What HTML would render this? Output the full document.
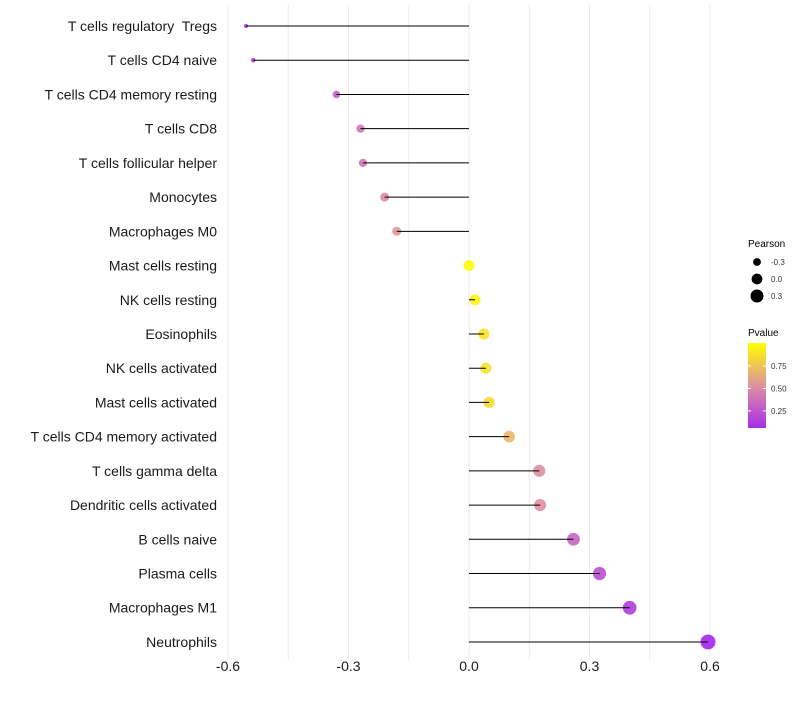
<!DOCTYPE html>
<html><head><meta charset="utf-8"><style>
body{margin:0;background:#fff;font-family:"Liberation Sans",sans-serif;}
text{white-space:pre;}
</style></head><body>
<svg id="chart" width="800" height="700" font-family="Liberation Sans, sans-serif"></svg>
<script>
const categories=["T cells regulatory  Tregs","T cells CD4 naive","T cells CD4 memory resting","T cells CD8","T cells follicular helper","Monocytes","Macrophages M0","Mast cells resting","NK cells resting","Eosinophils","NK cells activated","Mast cells activated","T cells CD4 memory activated","T cells gamma delta","Dendritic cells activated","B cells naive","Plasma cells","Macrophages M1","Neutrophils"];
const pearson=[-0.555,-0.537,-0.33,-0.27,-0.264,-0.21,-0.18,0.0,0.015,0.037,0.042,0.05,0.1,0.175,0.177,0.26,0.325,0.4,0.595];
const pvalue=[0.06,0.07,0.3,0.4,0.4,0.5,0.56,0.99,0.95,0.88,0.87,0.85,0.7,0.52,0.52,0.32,0.22,0.13,0.03];
const xTicks=[-0.6,-0.3,0.0,0.3,0.6];
const xTickLabels=["-0.6","-0.3","0.0","0.3","0.6"];
const legendSizes=[-0.3,0.0,0.3];
const legendPTicks=[0.25,0.5,0.75];

const NS="http://www.w3.org/2000/svg";
const svg=document.getElementById('chart');
const x=v=>469+v*401.7;
const y=i=>26+i*34.22;
const r=v=>Math.sqrt(Math.max(1,29+45*v));
function hex(c){return [parseInt(c.slice(1,3),16),parseInt(c.slice(3,5),16),parseInt(c.slice(5,7),16)];}
const stops=[[0,"#a020f0"],[0.5,"#dc8aa8"],[1,"#ffff00"]];
function col(p){p=Math.max(0,Math.min(1,p));for(let k=0;k<stops.length-1;k++){const[a,ca]=stops[k],[b,cb]=stops[k+1];if(p<=b){const t=(p-a)/(b-a);const A=hex(ca),B=hex(cb);return "rgb("+A.map((v,j)=>Math.round(v+(B[j]-v)*t)).join(",")+")";}}return stops[2][1];}
function mk(tag,attrs,parent){const e=document.createElementNS(NS,tag);for(const k in attrs)e.setAttribute(k,attrs[k]);(parent||svg).appendChild(e);return e;}
[-0.6,-0.45,-0.3,-0.15,0,0.15,0.3,0.45,0.6].forEach(v=>{const g=mk('line',{x1:x(v),x2:x(v),y1:5,y2:660,stroke:'#ebebeb','stroke-width':1});

});
categories.forEach((c,i)=>{
 const t=mk('text',{x:217,y:y(i)+5,'text-anchor':'end','font-size':14,fill:'#1a1a1a'});t.textContent=c;
 
 
 const dot=mk('circle',{cx:x(pearson[i]),cy:y(i),r:r(pearson[i]),fill:col(pvalue[i]),'fill-opacity':0.9});
 
 
 const s=mk('line',{x1:x(0),x2:x(pearson[i]),y1:y(i),y2:y(i),stroke:'#000','stroke-width':1});
 
 
});
xTicks.forEach((v,i)=>{const t=mk('text',{x:x(v),y:671,'text-anchor':'middle','font-size':14,fill:'#1a1a1a'});t.textContent=xTickLabels[i];
 
 });
const lt=mk('text',{x:748,y:247,'font-size':10,fill:'#000'});lt.textContent='Pearson';


legendSizes.forEach((v,i)=>{const cy=262+i*17;
 const c=mk('circle',{cx:757,cy:cy,r:r(v),fill:'#000'});
 
 
 const t=mk('text',{x:771,y:cy+3,'font-size':8,fill:'#333'});t.textContent=v.toFixed(1);
 
 });
const ct=mk('text',{x:748,y:336,'font-size':10,fill:'#000'});ct.textContent='Pvalue';


const defs=mk('defs',{});const lg=mk('linearGradient',{id:'pg',x1:0,y1:1,x2:0,y2:0},defs);
for(let k=0;k<=10;k++){const p=0.06+k*0.094;mk('stop',{offset:k/10,'stop-color':col(p)},lg);}
const bar=mk('rect',{x:748,y:343,width:18,height:85,fill:'url(#pg)'});


legendPTicks.forEach(v=>{const yy=428-(v-0.06)/0.25*22.5;
 mk('line',{x1:748,x2:751,y1:yy,y2:yy,stroke:'#fff'});mk('line',{x1:763,x2:766,y1:yy,y2:yy,stroke:'#fff'});
 const t=mk('text',{x:771,y:yy+3,'font-size':8,fill:'#333'});t.textContent=v.toFixed(2);
 
 });
</script>
</body></html>
